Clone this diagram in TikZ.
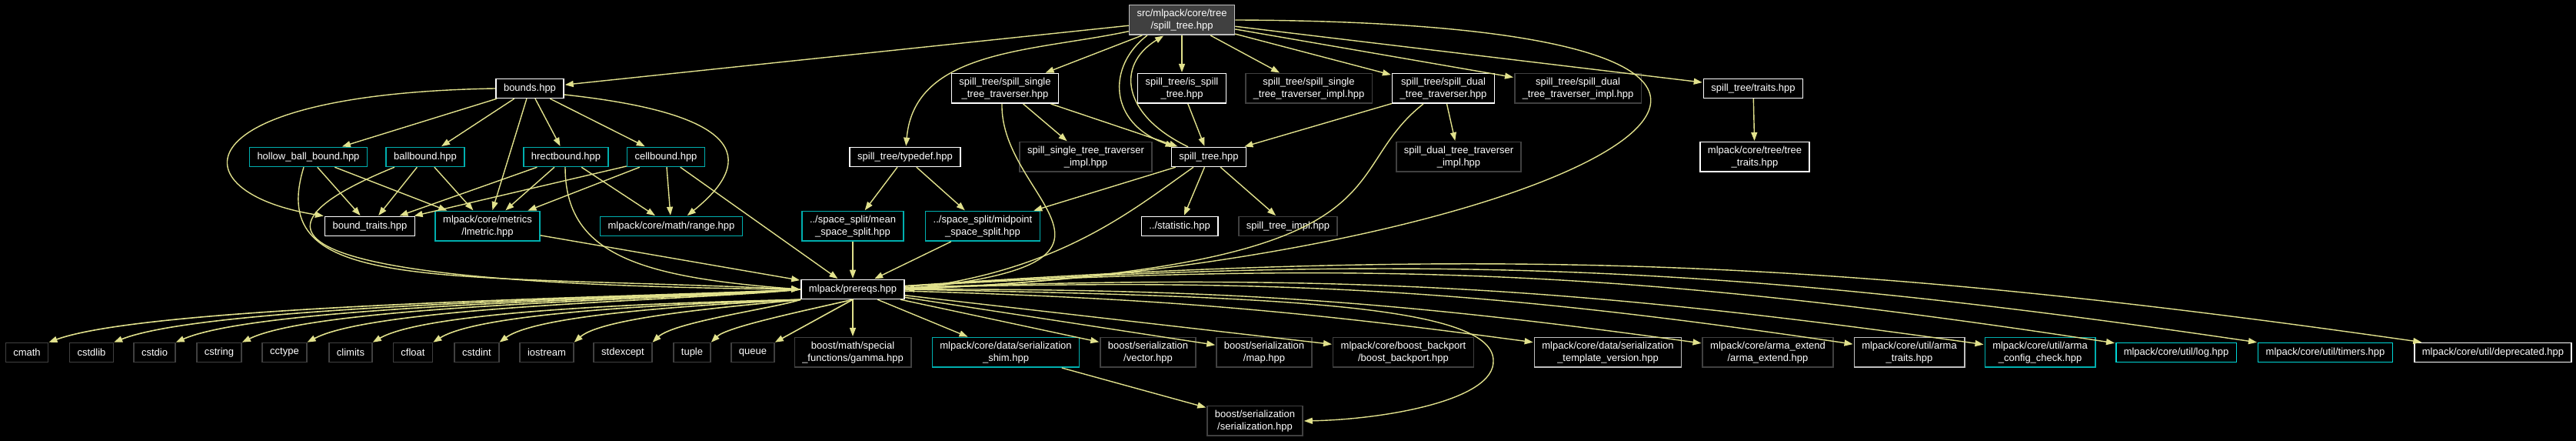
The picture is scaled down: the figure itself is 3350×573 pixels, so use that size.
\documentclass[tikz,border=0pt]{standalone}
\usepackage{fontspec}
\setmainfont{Liberation Sans}
\usetikzlibrary{positioning, arrows.meta}
\definecolor{edgecol}{RGB}{225,225,140}
\definecolor{lgrey}{RGB}{191,191,191}
\definecolor{dgrey}{RGB}{64,64,64}
\definecolor{incteal}{RGB}{0,175,175}
\definecolor{inccyan}{RGB}{0,215,215}
\definecolor{rootfill}{RGB}{64,64,64}

\begin{document}
\begin{tikzpicture}[
			x=0.25pt, y=0.25pt, shorten >=0.25pt, auto,
			>={Triangle[length=2.75pt, width=2pt]},
			hdr/.style={draw=white, fill=black, text=white, line width=0.375pt, inner xsep=2.5pt, inner ysep=0.5pt,
				minimum height=6.25pt, align=center, font=\fontsize{3.25}{3.875}\selectfont},
			tall/.style={minimum height=9.625pt},
			lgr/.style={hdr, draw=lgrey},
			dgr/.style={hdr, draw=dgrey},
			cyn/.style={hdr, draw=incteal},
			cyb/.style={hdr, draw=inccyan},
			rootfile/.style={hdr, draw=lgrey, fill=rootfill},
			dep/.style={->, draw=edgecol, line width=0.35pt},
			sysdep/.style={draw=edgecol, line width=0.4pt, shorten >=0pt, -{Triangle[length=2.75pt, width=2pt]}},
			every edge/.style={draw=edgecol, line width=0.35pt}
			]
			\fill[black] (0,0) rectangle (3350,-573);

			% top
			\node[rootfile, tall] (h_root) at (1537,-26) {src/mlpack/core/tree\\/spill\_tree.hpp};

			% first level
			\node[hdr] (h_bounds) at (689,-115) {bounds.hpp};
			\node[hdr, tall] (h_sstt) at (1307,-115) {spill\_tree/spill\_single\\\_tree\_traverser.hpp};
			\node[hdr, tall] (h_isst) at (1537,-115) {spill\_tree/is\_spill\\\_tree.hpp};
			\node[dgr, tall] (h_sstti) at (1702,-115) {spill\_tree/spill\_single\\\_tree\_traverser\_impl.hpp};
			\node[hdr, tall] (h_sdtt) at (1877,-115) {spill\_tree/spill\_dual\\\_tree\_traverser.hpp};
			\node[dgr, tall] (h_sdtti) at (2052,-115) {spill\_tree/spill\_dual\\\_tree\_traverser\_impl.hpp};
			\node[hdr] (h_traits) at (2280,-115) {spill\_tree/traits.hpp};

			% second level
			\node[cyn] (h_hollow) at (401,-204) {hollow\_ball\_bound.hpp};
			\node[cyn] (h_ballb) at (553,-204) {ballbound.hpp};
			\node[cyn] (h_hrect) at (736,-204) {hrectbound.hpp};
			\node[cyn] (h_cellb) at (866,-204) {cellbound.hpp};
			\node[hdr] (h_typedef) at (1177,-204) {spill\_tree/typedef.hpp};
			\node[dgr, tall] (h_sstimpl) at (1412,-204) {spill\_single\_tree\_traverser\\\_impl.hpp};
			\node[hdr] (h_stree) at (1572,-204) {spill\_tree.hpp};
			\node[dgr, tall] (h_sdtimpl) at (1897,-204) {spill\_dual\_tree\_traverser\\\_impl.hpp};
			\node[hdr, tall] (h_treetr) at (2282,-204) {mlpack/core/tree/tree\\\_traits.hpp};

			% third level
			\node[hdr] (h_btraits) at (481,-294) {bound\_traits.hpp};
			\node[cyn, tall] (h_lmetric) at (634,-294) {mlpack/core/metrics\\/lmetric.hpp};
			\node[cyn] (h_range) at (873,-294) {mlpack/core/math/range.hpp};
			\node[cyn, tall] (h_mean) at (1109,-294) {../space\_split/mean\\\_space\_split.hpp};
			\node[cyn, tall] (h_midpt) at (1278,-294) {../space\_split/midpoint\\\_space\_split.hpp};
			\node[hdr] (h_stat) at (1534,-294) {../statistic.hpp};
			\node[dgr] (h_streeimpl) at (1675,-294) {spill\_tree\_impl.hpp};

			\node[hdr] (h_prereqs) at (1109,-376) {mlpack/prereqs.hpp};

			% bottom row
			\node[dgr] (n_cmath) at (35,-458) {cmath};
			\node[dgr] (n_cstdlib) at (119,-458) {cstdlib};
			\node[dgr] (n_cstdio) at (201,-458) {cstdio};
			\node[dgr] (n_cstring) at (285,-458) {cstring};
			\node[dgr] (n_cctype) at (370,-458) {cctype};
			\node[dgr] (n_climits) at (456,-458) {climits};
			\node[dgr] (n_cfloat) at (537,-458) {cfloat};
			\node[dgr] (n_cstdint) at (620,-458) {cstdint};
			\node[dgr] (n_iostream) at (711,-458) {iostream};
			\node[dgr] (n_stdexcept) at (810,-458) {stdexcept};
			\node[dgr] (n_tuple) at (900,-458) {tuple};
			\node[dgr] (n_queue) at (979,-458) {queue};
			\node[dgr, tall] (h_gamma) at (1109,-458) {boost/math/special\\\_functions/gamma.hpp};
			\node[cyn, tall] (h_shim) at (1308,-458) {mlpack/core/data/serialization\\\_shim.hpp};
			\node[dgr, tall] (h_vector) at (1493,-458) {boost/serialization\\/vector.hpp};
			\node[dgr, tall] (h_map) at (1644,-458) {boost/serialization\\/map.hpp};
			\node[dgr, tall] (h_backport) at (1825,-458) {mlpack/core/boost\_backport\\/boost\_backport.hpp};
			\node[lgr, tall] (h_tmplver) at (2091,-458) {mlpack/core/data/serialization\\\_template\_version.hpp};
			\node[dgr, tall] (h_armaext) at (2299,-458) {mlpack/core/arma\_extend\\/arma\_extend.hpp};
			\node[lgr, tall] (h_armatr) at (2483,-458) {mlpack/core/util/arma\\\_traits.hpp};
			\node[cyn, tall] (h_armacfg) at (2653,-458) {mlpack/core/util/arma\\\_config\_check.hpp};
			\node[cyb] (h_log) at (2830,-458) {mlpack/core/util/log.hpp};
			\node[cyb] (h_timers) at (3024,-458) {mlpack/core/util/timers.hpp};
			\node[hdr] (h_deprec) at (3242,-458) {mlpack/core/util/deprecated.hpp};

			\node[dgr, tall] (h_serial) at (1632,-547) {boost/serialization\\/serialization.hpp};
			\coordinate (c_serbend) at (1942,-468);

			\path[->]
			(h_root) edge (h_bounds)
			(h_root) edge (h_sstt)
			(h_root) edge [out=192, in=85] (h_typedef)
			(h_root) edge (h_isst)
			(h_root) edge (h_sstti)
			(h_root) edge (h_sdtt)
			(h_root) edge (h_sdtti)
			(h_root) edge (h_traits)
			(h_bounds) edge (h_hollow)
			(h_bounds) edge (h_ballb)
			(h_bounds) edge (h_lmetric)
			(h_bounds) edge (h_hrect)
			(h_bounds) edge (h_cellb)
			(h_hollow) edge (h_btraits)
			(h_hollow) edge (h_lmetric)
			(h_ballb) edge (h_btraits)
			(h_ballb) edge (h_lmetric)
			(h_hrect) edge (h_btraits)
			(h_hrect) edge (h_lmetric)
			(h_hrect) edge (h_range)
			(h_cellb) edge (h_btraits)
			(h_cellb) edge (h_lmetric)
			(h_cellb) edge (h_range)
			(h_cellb) edge (h_prereqs)
			(h_lmetric) edge (h_prereqs)
			(h_typedef) edge (h_mean)
			(h_typedef) edge (h_midpt)
			(h_mean) edge (h_prereqs)
			(h_midpt) edge (h_prereqs)
			(h_sstt) edge (h_sstimpl)
			(h_sstt) edge (h_stree)
			(h_isst) edge (h_stree)
			(h_sdtt) edge (h_stree)
			(h_sdtt) edge (h_sdtimpl)
			(h_stree) edge (h_midpt)
			(h_stree) edge (h_stat)
			(h_stree) edge (h_streeimpl)
			(h_traits) edge (h_treetr)
			(h_shim) edge (h_serial)
			(h_prereqs) edge (h_gamma)
			(h_prereqs) edge (h_shim)
			(h_prereqs) edge (h_vector)
			(h_prereqs) edge (h_map)
			(h_prereqs) edge (h_backport)
			(h_prereqs) edge [bend left=3] (h_tmplver)
			(h_prereqs) edge [bend left=4] (h_armaext)
			(h_prereqs) edge [bend left=5] (h_armatr)
			(h_prereqs) edge [bend left=5] (h_armacfg)
			(h_prereqs) edge [bend left=6] (h_log)
			(h_prereqs) edge [bend left=6] (h_timers)
			(h_prereqs) edge [bend left=6] (h_deprec);

			% prereqs to the system headers
			\draw[sysdep] (h_prereqs.west) .. controls (850,-386) and (200,-395) .. (n_cmath.north east);
			\draw[sysdep] (h_prereqs.west) .. controls (862,-387) and (273,-395) .. (n_cstdlib.north east);
			\draw[sysdep] (h_prereqs.west) .. controls (879,-388) and (343,-395) .. (n_cstdio.north east);
			\draw[sysdep] (h_prereqs.west) .. controls (896,-389) and (417,-395) .. (n_cstring.north east);
			\draw[sysdep] (h_prereqs.west) .. controls (913,-390) and (490,-397) .. (n_cctype.north east);
			\draw[sysdep] (h_prereqs.south west) .. controls (930,-392) and (562,-400) .. (n_climits.north east);
			\draw[sysdep] (h_prereqs.south west) .. controls (946,-393) and (631,-402) .. (n_cfloat.north east);
			\draw[sysdep] (h_prereqs.south west) .. controls (963,-394) and (704,-405) .. (n_cstdint.north east);
			\draw[sysdep] (h_prereqs.south west) .. controls (982,-396) and (786,-410) .. (n_iostream.north east);
			\draw[sysdep] (h_prereqs.south west) .. controls (1010,-400) and (877,-418) .. (n_stdexcept.north east);
			\draw[sysdep] (h_prereqs.south) .. controls (1040,-405) and (945,-425) .. (n_tuple.north east);
			\draw[sysdep] (h_prereqs.south) -- (n_queue.north east);

			% long curved ones
			\draw[dep] (h_bounds.west) .. controls (230,-122) and (230,-250) .. (h_btraits.north west);
			\draw[dep] ([yshift=-2pt]h_bounds.east) .. controls (985,-150) and (975,-215) .. ([xshift=5pt]h_range.north);
			\draw[dep] ([xshift=-1.5pt]h_hollow.south) .. controls (345,-380) and (560,-355) .. (h_prereqs.west);
			\draw[dep] ([xshift=-10pt]h_ballb.south) .. controls (260,-320) and (450,-370) .. (h_prereqs.west);
			\draw[dep] ([xshift=-0.25pt]h_hrect.south) .. controls (735,-330) and (830,-360) .. (h_prereqs.west);
			\draw[dep] ([xshift=-11.25pt]h_root.south) .. controls (1440,-85) and (1440,-160) .. ([xshift=1.25pt]h_stree.north west);
			\draw[dep] ([xshift=-6.75pt]h_stree.north) .. controls (1460,-150) and (1450,-85) .. ([xshift=-5.75pt]h_root.south);
			\draw[dep] (h_root.east) .. controls (2620,-30) and (2050,-340) .. (h_prereqs.east);
			\draw[dep] ([xshift=-1pt]h_sstt.south) .. controls (1300,-260) and (1520,-340) .. (h_prereqs.east);
			\draw[dep] ([xshift=-6.5pt]h_sdtt.south) .. controls (1730,-230) and (1850,-345) .. (h_prereqs.east);
			\draw[dep] ([xshift=-5pt]h_stree.south) .. controls (1470,-275) and (1380,-350) .. (h_prereqs.east);
			\draw[dep] (h_prereqs.east) .. controls (1650,-385) and (1940,-395) .. (c_serbend)
				.. controls (1945,-520) and (1800,-545) .. (h_serial.east);
		\end{tikzpicture}
\end{document}
